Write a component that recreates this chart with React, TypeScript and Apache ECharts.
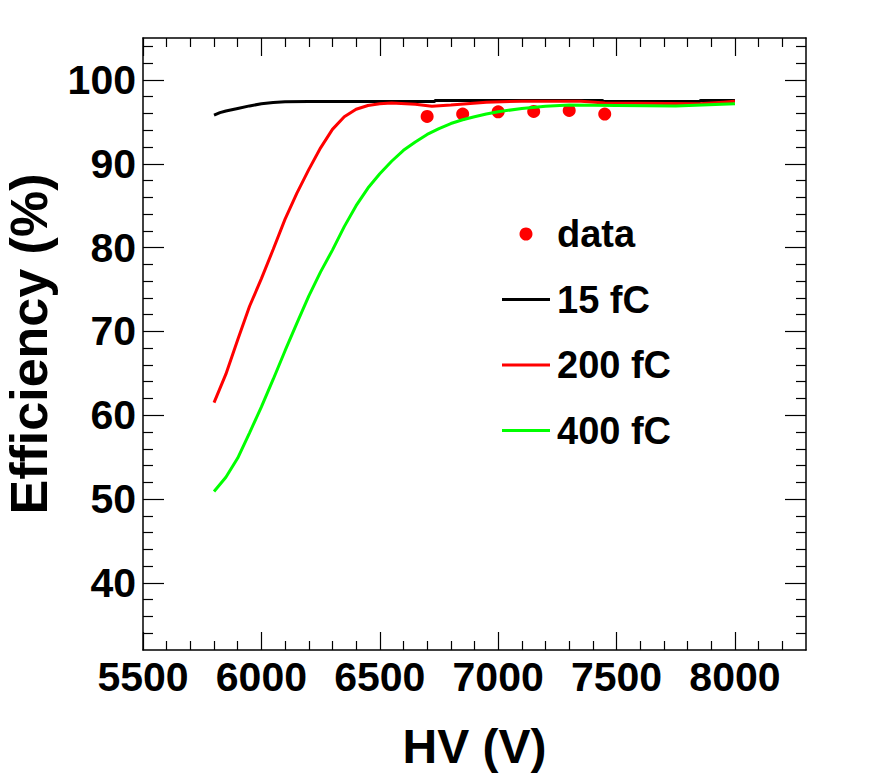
import React, { useEffect, useRef } from "react";
import * as echarts from "echarts";

// Axis ticks
const xMajor = [5500, 6000, 6500, 7000, 7500, 8000];
const xMinor = [5600, 5700, 5800, 5900, 6100, 6200, 6300, 6400, 6600, 6700, 6800, 6900, 7100, 7200, 7300, 7400, 7600, 7700, 7800, 7900, 8100, 8200];
const yMajor = [40, 50, 60, 70, 80, 90, 100];
const yMinor = [34, 36, 38, 42, 44, 46, 48, 52, 54, 56, 58, 62, 64, 66, 68, 72, 74, 76, 78, 82, 84, 86, 88, 92, 94, 96, 98, 102, 104];

// Measured data points
const dataHV = [6700, 6850, 7000, 7150, 7300, 7450];
const dataEff = [95.65, 95.93, 96.2, 96.24, 96.36, 95.93];

// Simulation curves
const hv15 = [5800, 5825, 5850, 5900, 5950, 6000, 6050, 6100, 6200, 6300, 6500, 6730, 6735, 7000, 7440, 7445, 7600, 7850, 7855, 8000];
const eff15 = [95.8, 96.1, 96.3, 96.6, 96.9, 97.15, 97.3, 97.4, 97.42, 97.42, 97.42, 97.42, 97.55, 97.55, 97.55, 97.42, 97.42, 97.42, 97.55, 97.55];

const hv200 = [5800, 5850, 5900, 5950, 6000, 6050, 6100, 6150, 6200, 6250, 6300, 6350, 6400, 6450, 6500, 6550, 6650, 6720, 6800, 6950, 7100, 7350, 7450, 7850, 7950, 8000];
const eff200 = [61.5, 64.9, 69.0, 73.0, 76.3, 79.8, 83.4, 86.5, 89.3, 91.9, 94.1, 95.6, 96.5, 96.95, 97.15, 97.25, 97.1, 96.85, 97.0, 97.35, 97.45, 97.45, 97.25, 97.15, 97.35, 97.45];

const hv400 = [5800, 5850, 5900, 5950, 6000, 6050, 6100, 6150, 6200, 6250, 6300, 6350, 6400, 6450, 6500, 6550, 6600, 6650, 6700, 6750, 6800, 6850, 6900, 6950, 7000, 7100, 7200, 7300, 7500, 7750, 8000];
const eff400 = [50.9, 52.6, 54.9, 57.9, 61.0, 64.3, 67.7, 71.0, 74.2, 77.1, 79.7, 82.5, 85.0, 87.1, 88.8, 90.3, 91.6, 92.6, 93.5, 94.2, 94.8, 95.25, 95.6, 95.93, 96.2, 96.6, 96.85, 97.0, 96.95, 96.9, 97.15];

const FONT = '"Liberation Sans", Arial, Helvetica, sans-serif';

const zip = (xs: number[], ys: number[]) => xs.map((x, i) => [x, ys[i]]);

function xAxisDef(position: string, ticks: number[], len: number, showLine: boolean, labels: boolean, name?: string) {
  return {
    type: "value",
    position,
    min: 5500,
    max: 8300,
    name: name || "",
    nameLocation: "middle",
    nameGap: 76,
    nameTextStyle: { fontFamily: FONT, fontWeight: "bold", fontSize: 48, lineHeight: 40, color: "#000" },
    axisLine: { show: showLine, onZero: false, lineStyle: { color: "#000", width: 1.5 } },
    axisTick: { show: true, inside: true, length: len, customValues: ticks, lineStyle: { color: "#000", width: 1.2 } },
    axisLabel: labels
      ? { show: true, customValues: xMajor, margin: 6, fontFamily: FONT, fontWeight: "bold", fontSize: 41, color: "#000", formatter: (v: number) => String(v) }
      : { show: false },
    splitLine: { show: false },
  };
}

function yAxisDef(position: string, ticks: number[], len: number, showLine: boolean, labels: boolean, name?: string) {
  return {
    type: "value",
    position,
    min: 32,
    max: 105,
    name: name || "",
    nameLocation: "middle",
    nameGap: 88,
    nameTextStyle: { fontFamily: FONT, fontWeight: "bold", fontSize: 52, color: "#000" },
    axisLine: { show: showLine, onZero: false, lineStyle: { color: "#000", width: 1.5 } },
    axisTick: { show: true, inside: true, length: len, customValues: ticks, lineStyle: { color: "#000", width: 1.2 } },
    axisLabel: labels
      ? { show: true, customValues: yMajor, margin: 7, fontFamily: FONT, fontWeight: "bold", fontSize: 41, color: "#000", formatter: (v: number) => String(v) }
      : { show: false },
    splitLine: { show: false },
  };
}

const LINE_ICON = "path://M0 0H48V3H0Z";

export default function App() {
  const ref = useRef<HTMLDivElement>(null);
  useEffect(() => {
    if (!ref.current) return;
    const chart = echarts.init(ref.current, undefined, { renderer: "svg" });
    chart.setOption({
      animation: false,
      backgroundColor: "#fff",
      grid: { left: 143, right: 90, top: 38, bottom: 124, containLabel: false, outerBoundsMode: "none" },
      xAxis: [
        xAxisDef("bottom", xMajor, 18, true, true, "HV (V)"),
        xAxisDef("bottom", xMinor, 9, false, false),
        xAxisDef("top", xMajor, 18, true, false),
        xAxisDef("top", xMinor, 9, false, false),
      ],
      yAxis: [
        yAxisDef("left", yMajor, 21, true, true, "Efficiency (%)"),
        yAxisDef("left", yMinor, 10, false, false),
        yAxisDef("right", yMajor, 21, true, false),
        yAxisDef("right", yMinor, 10, false, false),
      ],
      legend: {
        orient: "vertical",
        left: 502,
        top: 215,
        padding: 0,
        itemWidth: 48,
        itemHeight: 13,
        itemGap: 27.5,
        textStyle: { fontFamily: FONT, fontWeight: "bold", fontSize: 38, color: "#000", padding: [0, 0, 0, 2] },
        data: [
          { name: "data", icon: "circle" },
          { name: "15 fC", icon: LINE_ICON },
          { name: "200 fC", icon: LINE_ICON },
          { name: "400 fC", icon: LINE_ICON },
        ],
      },
      series: [
        {
          name: "15 fC",
          type: "line",
          data: zip(hv15, eff15),
          symbol: "none",
          lineStyle: { color: "#000000", width: 3 },
          itemStyle: { color: "#000000" },
        },
        {
          name: "200 fC",
          type: "line",
          data: zip(hv200, eff200),
          symbol: "none",
          lineStyle: { color: "#ff0000", width: 3 },
          itemStyle: { color: "#ff0000" },
        },
        {
          name: "400 fC",
          type: "line",
          data: zip(hv400, eff400),
          symbol: "none",
          lineStyle: { color: "#00ff00", width: 3 },
          itemStyle: { color: "#00ff00" },
        },
        {
          name: "data",
          type: "scatter",
          data: zip(dataHV, dataEff),
          symbol: "circle",
          symbolSize: 13,
          itemStyle: { color: "#ff0000", opacity: 1 },
        },
      ],
    });
    return () => chart.dispose();
  }, []);
  return <div ref={ref} style={{ position: "absolute", left: 0, top: 0, width: 896, height: 774 }} />;
}
